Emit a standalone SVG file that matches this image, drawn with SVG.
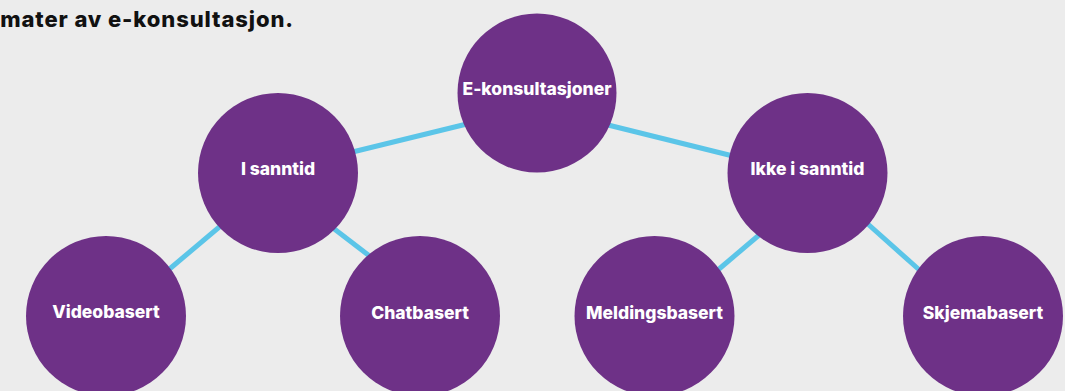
<svg xmlns="http://www.w3.org/2000/svg" width="1065" height="391" viewBox="0 0 1065 391">
<style>
.bg{fill:#ececec}
.n circle{fill:#6e3187}
.n text{fill:#ffffff;font-family:Inter,"Liberation Sans",sans-serif;font-weight:800;font-size:17.5px;text-anchor:middle}
.c line{stroke:#5bc5e8;stroke-width:5;stroke-linecap:butt}
.title{fill:#111111;font-family:Inter,"Liberation Sans",sans-serif;font-weight:800;font-size:22px;letter-spacing:0.9px;text-anchor:end}
</style>
<rect class="bg" x="0" y="0" width="1065" height="391"/>
<text class="title" x="294" y="27">mater av e-konsultasjon.</text>
<g id="connectors" class="c">
<line x1="330" y1="157.5" x2="475" y2="122"/>
<line x1="600" y1="123" x2="745" y2="159"/>
<line x1="160" y1="277" x2="230" y2="218"/>
<line x1="320" y1="218" x2="380" y2="264"/>
<line x1="712" y1="275" x2="765" y2="230"/>
<line x1="860" y1="217" x2="925" y2="275"/>
</g>
<g id="n-ekons" class="n"><circle cx="537" cy="93" r="79.5"/><text x="537" y="95">E-konsultasjoner</text></g>
<g id="n-sanntid" class="n"><circle cx="278" cy="173" r="80"/><text x="278" y="175">I sanntid</text></g>
<g id="n-ikke" class="n"><circle cx="807.5" cy="173" r="80"/><text x="807.5" y="174.5">Ikke i sanntid</text></g>
<g id="n-video" class="n"><circle cx="106" cy="316" r="80"/><text x="106" y="318">Videobasert</text></g>
<g id="n-chat" class="n"><circle cx="420" cy="316" r="80"/><text x="420" y="319">Chatbasert</text></g>
<g id="n-melding" class="n"><circle cx="654.5" cy="316" r="80"/><text x="654.5" y="319">Meldingsbasert</text></g>
<g id="n-skjema" class="n"><circle cx="983" cy="316" r="80"/><text x="983" y="319">Skjemabasert</text></g>
</svg>
